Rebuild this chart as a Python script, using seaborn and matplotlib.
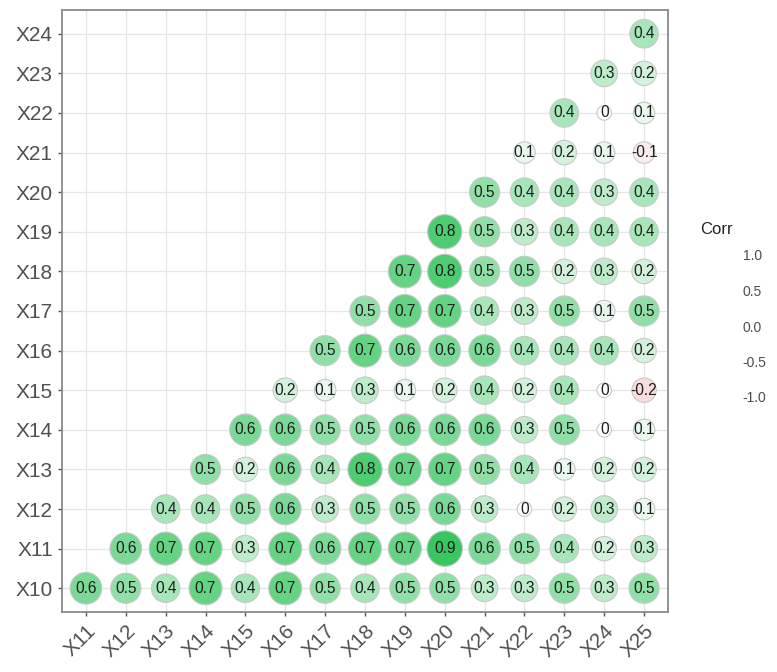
import numpy as np
import pandas as pd
import matplotlib
matplotlib.use("Agg")
import matplotlib.pyplot as plt
from matplotlib.colors import LinearSegmentedColormap, Normalize
from matplotlib.cm import ScalarMappable
import seaborn as sns

# Variables on each axis
row_labels = [f"X{i}" for i in range(10, 25)]   # X10 .. X24 (y axis)
col_labels = [f"X{i}" for i in range(11, 26)]   # X11 .. X25 (x axis)

# Correlations of each row variable with X(k+1) .. X25
corr_rows = [
    [0.6, 0.5, 0.4, 0.7, 0.4, 0.7, 0.5, 0.4, 0.5, 0.5, 0.3, 0.3, 0.5, 0.3, 0.5],  # X10
    [0.6, 0.7, 0.7, 0.3, 0.7, 0.6, 0.7, 0.7, 0.9, 0.6, 0.5, 0.4, 0.2, 0.3],       # X11
    [0.4, 0.4, 0.5, 0.6, 0.3, 0.5, 0.5, 0.6, 0.3, 0.0, 0.2, 0.3, 0.1],            # X12
    [0.5, 0.2, 0.6, 0.4, 0.8, 0.7, 0.7, 0.5, 0.4, 0.1, 0.2, 0.2],                 # X13
    [0.6, 0.6, 0.5, 0.5, 0.6, 0.6, 0.6, 0.3, 0.5, 0.0, 0.1],                      # X14
    [0.2, 0.1, 0.3, 0.1, 0.2, 0.4, 0.2, 0.4, 0.0, -0.2],                          # X15
    [0.5, 0.7, 0.6, 0.6, 0.6, 0.4, 0.4, 0.4, 0.2],                                # X16
    [0.5, 0.7, 0.7, 0.4, 0.3, 0.5, 0.1, 0.5],                                     # X17
    [0.7, 0.8, 0.5, 0.5, 0.2, 0.3, 0.2],                                          # X18
    [0.8, 0.5, 0.3, 0.4, 0.4, 0.4],                                               # X19
    [0.5, 0.4, 0.4, 0.3, 0.4],                                                    # X20
    [0.1, 0.2, 0.1, -0.1],                                                        # X21
    [0.4, 0.0, 0.1],                                                              # X22
    [0.3, 0.2],                                                                   # X23
    [0.4],                                                                        # X24
]

records = []
for i, (rlab, vals) in enumerate(zip(row_labels, corr_rows)):
    for j, v in enumerate(vals):
        records.append({"row": rlab, "col": col_labels[i + j], "corr": v})
df = pd.DataFrame(records)
df["row"] = pd.Categorical(df["row"], categories=row_labels, ordered=True)
df["col"] = pd.Categorical(df["col"], categories=col_labels, ordered=True)
df["mag"] = df["corr"].abs().round(1)

FONT = ["Liberation Sans", "DejaVu Sans"]

# figure geometry
W, H, DPI = 777, 672, 100
fig = plt.figure(figsize=(W / DPI, H / DPI), dpi=DPI)
ax = fig.add_axes([62 / W, 1 - 612 / H, (668 - 62) / W, (612 - 10) / H])

cmap = LinearSegmentedColormap.from_list("corr", ["#E0504A", "#FFFFFF", "#22C050"])

# marker diameter grows with sqrt of |r| (pixels -> points^2)
def marker_area(m):
    d_px = 14.5 + 21.0 * np.sqrt(m / 0.9)
    return (d_px * 72.0 / DPI) ** 2

size_map = {m: marker_area(m) for m in sorted(df["mag"].unique())}

sns.scatterplot(
    data=df, x="col", y="row", hue="corr", palette=cmap, hue_norm=(-1, 1),
    size="mag", sizes=size_map, edgecolor="#c8c8c8", linewidth=0.8,
    legend=False, ax=ax, zorder=3,
)

for _, r in df.iterrows():
    v = r["corr"]
    lab = "0" if v == 0 else f"{v:.1f}"
    ax.text(r["col"], r["row"], lab, ha="center", va="center",
            fontsize=11.2, color="#1e1e1e", zorder=4, family=FONT)

n = len(col_labels)
ax.set_xlim(-0.6, n - 1 + 0.6)
ax.set_ylim(-0.6, len(row_labels) - 1 + 0.6)
ax.set_xlabel("")
ax.set_ylabel("")

ax.set_facecolor("white")
ax.grid(True, color="#e6e6e6", linewidth=0.9, zorder=0)
ax.set_axisbelow(True)
for sp in ax.spines.values():
    sp.set_color("#8a8a8a")
    sp.set_linewidth(1.3)

ax.tick_params(axis="both", colors="#555555", length=3, width=1,
               labelsize=15, labelcolor="#505050")
for t in ax.get_xticklabels():
    t.set_rotation(45)
    t.set_ha("right")
    t.set_va("top")
    t.set_rotation_mode("anchor")
    t.set_family(FONT)
for t in ax.get_yticklabels():
    t.set_family(FONT)

# colour legend: labels only, the bar itself is left blank
cax = fig.add_axes([708 / W, 1 - 397 / H, 25 / W, (397 - 255) / H])
sm = ScalarMappable(norm=Normalize(-1, 1), cmap=cmap)
cb = fig.colorbar(sm, cax=cax, ticks=[-1.0, -0.5, 0.0, 0.5, 1.0])
cb.solids.set_alpha(0)
cb.outline.set_visible(False)
cb.ax.set_yticklabels(["-1.0", "-0.5", "0.0", "0.5", "1.0"])
cb.ax.tick_params(length=0, pad=7, labelsize=10, labelcolor="#4d4d4d")
for t in cb.ax.get_yticklabels():
    t.set_family(FONT)
fig.text(700 / W, 1 - 230 / H, "Corr", fontsize=12, color="#222222",
         va="center", ha="left", family=FONT)

fig.savefig("out.png", dpi=DPI, facecolor="white")
